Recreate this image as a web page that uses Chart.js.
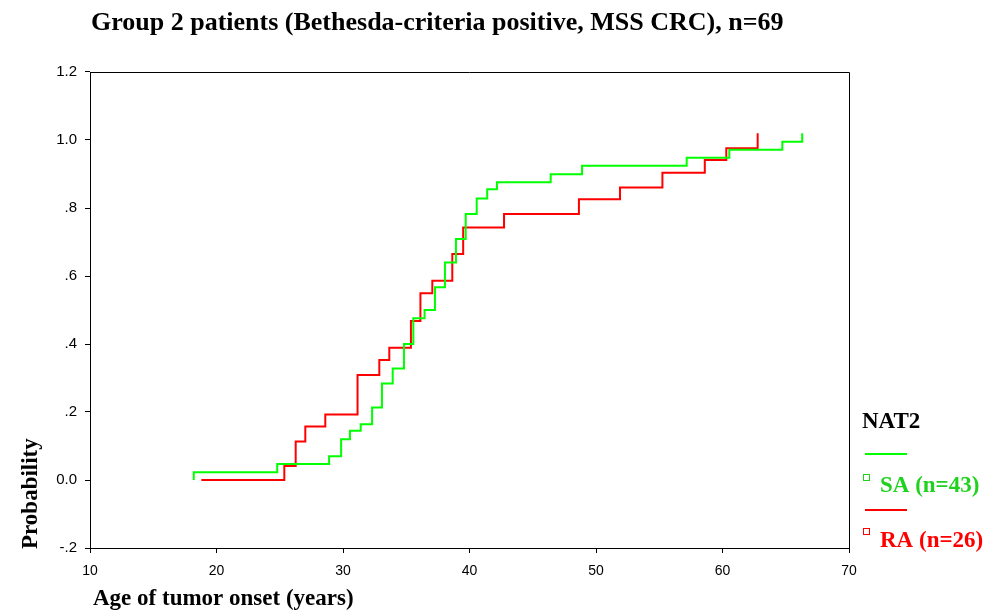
<!DOCTYPE html>
<html>
<head>
<meta charset="utf-8">
<script src="https://cdn.jsdelivr.net/npm/chart.js@4"></script>
<style>
  html, body { margin: 0; padding: 0; background: #fff; }
  #wrap { width: 994px; height: 612px; }
</style>
</head>
<body>
<div id="wrap"><canvas id="kmChart" width="994" height="612"></canvas></div>
<script>
// ages (years) where the curve steps, and cumulative probability after the step
const saAges = [18.2, 18.2, 24.8, 28.9, 29.85, 30.55, 31.4, 32.3, 33.08, 33.93, 34.82, 35.56, 36.45, 37.27, 38.06, 38.93, 39.7, 40.57, 41.4, 42.17, 46.42, 48.9, 57.17, 60.54, 64.73, 66.3];
const saProb = [0, 0.023, 0.047, 0.07, 0.12, 0.145, 0.164, 0.213, 0.284, 0.328, 0.4, 0.476, 0.5, 0.567, 0.64, 0.709, 0.782, 0.828, 0.855, 0.876, 0.899, 0.924, 0.948, 0.971, 0.995, 1.02];

const raAges = [18.8, 25.36, 26.26, 27.02, 28.6, 31.15, 32.87, 33.66, 35.37, 36.12, 37.06, 38.64, 39.5, 42.73, 48.65, 51.9, 55.25, 58.6, 60.3, 62.78];
const raProb = [0, 0.041, 0.113, 0.157, 0.193, 0.309, 0.353, 0.389, 0.468, 0.549, 0.586, 0.665, 0.743, 0.782, 0.826, 0.86, 0.904, 0.941, 0.976, 1.02];

const xTicks = [10, 20, 30, 40, 50, 60, 70];
const yTickLabels = ['-.2', '0.0', '.2', '.4', '.6', '.8', '1.0', '1.2'];

const titleText = 'Group 2 patients (Bethesda-criteria positive, MSS CRC), n=69';
const xTitle = 'Age of tumor onset (years)';
const yTitle = 'Probability';
const legendTitle = 'NAT2';
const seriesNames = ['SA (n=43)', 'RA (n=26)'];

const GREEN = '#00ff00';
const GREEN_TXT = '#1ed21e';
const RED = '#ff0000';

function toPoints(xs, ys) {
    return xs.map((x, i) => ({ x: x, y: ys[i] }));
}

const extras = {
    id: 'extras',
    afterDraw(chart) {
        const ctx = chart.ctx;
        const a = chart.chartArea;
        ctx.save();
        // frame (top + right)
        ctx.strokeStyle = '#000';
        ctx.lineWidth = 1;
        ctx.beginPath();
        ctx.moveTo(a.left, a.top + 0.5);
        ctx.lineTo(a.right + 0.5, a.top + 0.5);
        ctx.lineTo(a.right + 0.5, a.bottom);
        ctx.stroke();

        ctx.fillStyle = '#000';
        ctx.font = 'bold 26px "Liberation Serif"';
        ctx.textBaseline = 'alphabetic';
        ctx.textAlign = 'left';
        ctx.fillText(titleText, 91, 30);

        ctx.font = 'bold 23px "Liberation Serif"';
        ctx.fillText(xTitle, 93, 605);

        ctx.save();
        ctx.translate(37, 549);
        ctx.rotate(-Math.PI / 2);
        ctx.fillText(yTitle, 0, 0);
        ctx.restore();

        // legend
        ctx.fillText(legendTitle, 862, 428);
        ctx.lineWidth = 2;
        ctx.strokeStyle = GREEN;
        ctx.beginPath(); ctx.moveTo(865, 454); ctx.lineTo(907, 454); ctx.stroke();
        ctx.strokeStyle = RED;
        ctx.beginPath(); ctx.moveTo(865, 510); ctx.lineTo(907, 510); ctx.stroke();

        ctx.lineWidth = 1;
        ctx.strokeStyle = GREEN_TXT;
        ctx.strokeRect(863.5, 474.5, 6, 6);
        ctx.strokeStyle = RED;
        ctx.strokeRect(863.5, 528.5, 6, 6);

        ctx.fillStyle = GREEN_TXT;
        ctx.fillText(seriesNames[0], 880, 492);
        ctx.fillStyle = RED;
        ctx.fillText(seriesNames[1], 880, 547);
        ctx.restore();
    }
};

new Chart(document.getElementById('kmChart'), {
    type: 'line',
    data: {
        datasets: [
            {
                label: seriesNames[0],
                data: toPoints(saAges, saProb),
                borderColor: GREEN,
                borderWidth: 2,
                stepped: true,
                pointRadius: 0,
                fill: false
            },
            {
                label: seriesNames[1],
                data: toPoints(raAges, raProb),
                borderColor: RED,
                borderWidth: 2,
                stepped: true,
                pointRadius: 0,
                fill: false
            }
        ]
    },
    options: {
        responsive: false,
        animation: false,
        layout: { padding: { left: 0, right: 145, top: 72, bottom: 0 } },
        plugins: { legend: { display: false }, tooltip: { enabled: false }, title: { display: false } },
        scales: {
            x: {
                type: 'linear',
                min: 10, max: 70,
                afterBuildTicks: s => { s.ticks = xTicks.map(v => ({ value: v })); },
                afterFit: s => { s.height = 64; },
                grid: { drawOnChartArea: false, drawTicks: true, tickLength: 5, color: '#000' },
                border: { color: '#000', width: 1 },
                ticks: { color: '#000', font: { family: 'Liberation Sans', size: 14 }, padding: 10, maxRotation: 0 }
            },
            y: {
                type: 'linear',
                min: -0.2, max: 1.2,
                afterBuildTicks: s => { s.ticks = yTickLabels.map((t, i) => ({ value: -0.2 + i * 0.2 })); },
                afterFit: s => { s.width = 90; },
                grid: { drawOnChartArea: false, drawTicks: true, tickLength: 5, color: '#000' },
                border: { color: '#000', width: 1 },
                ticks: {
                    color: '#000', font: { family: 'Liberation Sans', size: 15 }, padding: 8,
                    callback: (v, i) => yTickLabels[i]
                }
            }
        }
    },
    plugins: [extras]
});
</script>
</body>
</html>
